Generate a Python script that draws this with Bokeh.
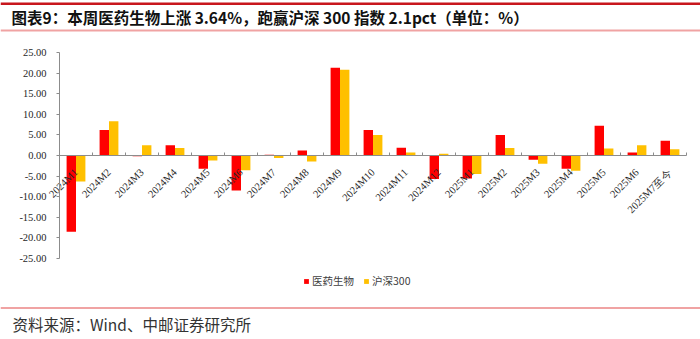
import math
from bokeh.plotting import figure
from bokeh.models import (Range1d, FixedTicker, NumeralTickFormatter,
                          Legend, LegendItem, Label, BoxAnnotation, ColumnDataSource)
from bokeh.embed import file_html
from bokeh.resources import INLINE

months = ["2024M1", "2024M2", "2024M3", "2024M4", "2024M5", "2024M6", "2024M7",
          "2024M8", "2024M9", "2024M10", "2024M11", "2024M12", "2025M1", "2025M2",
          "2025M3", "2025M4", "2025M5", "2025M6", "2025M7至今"]
pharma = [-18.5, 6.2, -0.2, 2.5, -3.2, -8.5, 0.2, 1.2, 21.3, 6.2, 1.9, -5.7,
          -5.6, 5.0, -1.05, -3.2, 7.2, 0.7, 3.6]
csi300 = [-6.3, 8.3, 2.5, 1.85, -1.2, -3.6, -0.6, -1.45, 20.8, 5.0, 0.7, 0.4,
          -4.5, 1.85, -2.0, -3.7, 1.7, 2.5, 1.5]
y_ticks = [-25, -20, -15, -10, -5, 0, 5, 10, 15, 20, 25]
series_names = ["医药生物", "沪深300"]
title_text = "图表9：本周医药生物上涨 3.64%，跑赢沪深 300 指数 2.1pct（单位：%）"
source_text = "资料来源：Wind、中邮证券研究所"

# ---- canvas geometry (pixels) ----
W, H = 700, 339
AX_LEFT, AX_RIGHT = 59, 686          # plot area horizontal extent
Y_TOP_PX, Y_BOT_PX = 52, 258         # pixel rows of +25 and -25
Y_MAX, Y_MIN = 25, -25
n = len(months)
cat_w = (AX_RIGHT - AX_LEFT) / n
ppu = (Y_BOT_PX - Y_TOP_PX) / (Y_MAX - Y_MIN)
zero_px = Y_TOP_PX + Y_MAX * ppu


def xd(px):
    return (px - AX_LEFT) / cat_w


def yd(py):
    return (zero_px - py) / ppu


centers = [i + 0.5 for i in range(n)]
bounds_x = list(range(n + 1))
bar_w = 0.285
src = ColumnDataSource(dict(c=centers,
                            ca=[c - bar_w / 2 for c in centers],
                            cb=[c + bar_w / 2 for c in centers],
                            a=pharma, b=csi300))

p = figure(x_range=Range1d(xd(0), xd(W)), y_range=Range1d(yd(H), yd(0)),
           width=W, height=H, output_backend="svg", toolbar_location=None,
           min_border=0, min_border_left=0, min_border_right=0,
           min_border_top=0, min_border_bottom=0)
p.outline_line_color = None
p.grid.visible = False
p.background_fill_color = "white"
p.border_fill_color = "white"

r1 = p.vbar(x="ca", top="a", width=bar_w, source=src,
            fill_color="#FF0000", line_color=None)
r2 = p.vbar(x="cb", top="b", width=bar_w, source=src,
            fill_color="#FFC000", line_color=None)

ax = p.xaxis[0]
ax.fixed_location = 0
ax.bounds = (0, n)
ax.ticker = FixedTicker(ticks=centers, minor_ticks=bounds_x)
ax.major_label_overrides = {c: m for c, m in zip(centers, months)}
ax.axis_line_color = "#8c8c8c"
ax.major_tick_line_color = None
ax.minor_tick_line_color = "#8c8c8c"
ax.minor_tick_in = 3
ax.minor_tick_out = 0
ax.major_label_orientation = math.pi / 4
ax.major_label_text_font = "Liberation Serif"
ax.major_label_text_font_size = "10.5px"
ax.major_label_text_color = "#262626"
ax.major_label_standoff = 9

ay = p.yaxis[0]
ay.fixed_location = 0
ay.bounds = (Y_MIN, Y_MAX)
ay.ticker = FixedTicker(ticks=y_ticks)
ay.formatter = NumeralTickFormatter(format="0.00")
ay.axis_line_color = "#8c8c8c"
ay.major_tick_line_color = "#8c8c8c"
ay.major_tick_out = 3
ay.major_tick_in = 0
ay.minor_tick_line_color = None
ay.major_label_text_font = "Liberation Serif"
ay.major_label_text_font_size = "10.5px"
ay.major_label_text_color = "#262626"
ay.major_label_standoff = 10

legend = Legend(items=[LegendItem(label=series_names[0], renderers=[r1]),
                       LegendItem(label=series_names[1], renderers=[r2])],
                orientation="horizontal", location=(303, H - 288),
                glyph_width=6, glyph_height=6, label_standoff=3, spacing=9,
                padding=0, margin=0, border_line_color=None,
                background_fill_alpha=0,
                label_text_font="Noto Sans CJK SC", label_text_font_size="10.5px",
                label_text_color="#404040", label_height=12)
p.add_layout(legend, "center")

# decorative rules
for top_px, bot_px, col in [(2, 4.5, "#C8161D"), (29, 31, "#F0A3A3"),
                            (306.5, 308.5, "#F0A3A3")]:
    p.add_layout(BoxAnnotation(left=xd(0), right=xd(W), top=yd(top_px),
                               bottom=yd(bot_px), fill_color=col, fill_alpha=1,
                               line_color=None, level="underlay"))

p.add_layout(Label(x=xd(11), y=yd(16), text=title_text,
                   text_font="Noto Sans CJK SC", text_font_style="bold",
                   text_font_size="15.5px", text_color="#111111",
                   text_baseline="middle"))
p.add_layout(Label(x=xd(12), y=yd(323), text=source_text,
                   text_font="Noto Sans CJK SC", text_font_size="15.5px",
                   text_color="#333333", text_baseline="middle"))

open("out.html", "w").write(file_html(p, INLINE))
